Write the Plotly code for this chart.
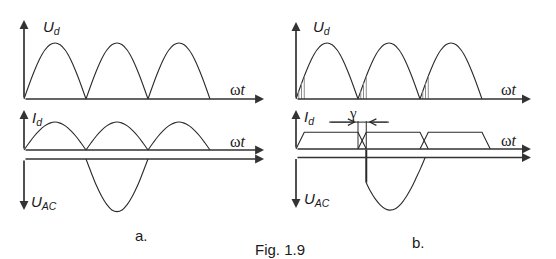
import plotly.graph_objects as go

W, H = 556, 259
DEG_PER_PX = 180 / 62      # horizontal scale: one half period = 62 px
PX_PER_UNIT = 56           # vertical scale: peak voltage = 56 px

# ---------------- data ----------------
ARCH_DEG = [0, 15, 30, 45, 60, 75, 90, 105, 120, 135, 150, 165, 180]
UD_ARCH = [0, 0.26, 0.5, 0.71, 0.87, 0.97, 1.0, 0.97, 0.87, 0.71, 0.5, 0.26, 0]
ID_A_ARCH = [0, 0.13, 0.25, 0.35, 0.43, 0.48, 0.5, 0.48, 0.43, 0.35, 0.25, 0.13, 0]
ARCH_START = [0, 180, 360]

UAC_A_DEG = [180, 195, 210, 225, 240, 255, 270, 285, 300, 315, 330, 345, 360]
UAC_A = [0, -0.24, -0.47, -0.66, -0.81, -0.91, -0.94, -0.91, -0.81, -0.66, -0.47, -0.24, 0]

GAMMA = 24                      # overlap angle (deg)
HATCH_DEG = [8, 16, 24]         # hatch positions inside the overlap
HATCH_H = [0.14, 0.28, 0.41]    # hatch heights
ID_B_LEVEL = 0.30               # trapezoid current level
GAMMA_DIM = [96, 270]           # extent of the gamma dimension line
GAMMA_DIM_Y = 0.48

UAC_B_DEG = [204, 215, 230, 245, 260, 273, 290, 305, 320, 335, 350, 362, 375]
UAC_B = [-0.45, -0.59, -0.74, -0.85, -0.92, -0.94, -0.91, -0.83, -0.70, -0.54, -0.35, -0.19, 0]

AXIS_LEN_A = 697
AXIS_LEN_B = 682

INK = "#2a2a2a"
AXIS_INK = "#333333"
HATCH_INK = "#8c8c8c"


def xaxis_cfg(origin_px, left_px, right_px):
    return dict(domain=[left_px / W, right_px / W],
                range=[(left_px - origin_px) * DEG_PER_PX, (right_px - origin_px) * DEG_PER_PX],
                visible=False, fixedrange=True)


def yaxis_cfg(base_px, top_px, bottom_px, anchor):
    return dict(domain=[1 - bottom_px / H, 1 - top_px / H],
                range=[(base_px - bottom_px) / PX_PER_UNIT, (base_px - top_px) / PX_PER_UNIT],
                visible=False, fixedrange=True, anchor=anchor)


def arches(values):
    xs, ys = [], []
    for s in ARCH_START:
        xs += [s + d for d in ARCH_DEG] + [None]
        ys += list(values) + [None]
    return xs, ys


fig = go.Figure()


def line(xs, ys, xa, ya, color=INK, width=1.1, shape="linear"):
    fig.add_trace(go.Scatter(x=xs, y=ys, xaxis=xa, yaxis=ya, mode="lines",
                             line=dict(color=color, width=width, shape=shape),
                             connectgaps=False, hoverinfo="skip"))


# ---- panel a ----
x, y = arches(UD_ARCH)
line(x, y, "x", "y", shape="spline")
x, y = arches(ID_A_ARCH)
line(x, y, "x", "y2", shape="spline")
line(UAC_A_DEG, UAC_A, "x", "y3", shape="spline")

# ---- panel b ----
x, y = arches(UD_ARCH)
line(x, y, "x2", "y4", shape="spline")
hx, hy = [], []
for s in ARCH_START:
    for d, h in zip(HATCH_DEG, HATCH_H):
        hx += [s + d, s + d, None]
        hy += [0, h, None]
line(hx, hy, "x2", "y4", color=HATCH_INK, width=1)

tx, ty = [], []
for s in ARCH_START:
    tx += [s, s + GAMMA, s + 180, s + 180 + GAMMA, None]
    ty += [0, ID_B_LEVEL, ID_B_LEVEL, 0, None]
line(tx, ty, "x2", "y5")

# commutation markers
line([180, 180, None, 180 + GAMMA, 180 + GAMMA], [0, GAMMA_DIM_Y + 0.02, None, 0, GAMMA_DIM_Y + 0.02],
     "x2", "y5", width=1)
line(GAMMA_DIM, [GAMMA_DIM_Y, GAMMA_DIM_Y], "x2", "y5", width=1)
line([180 + GAMMA, 180 + GAMMA], [0.14, UAC_B[0]], "x2", "y6", width=2)
line(UAC_B_DEG, UAC_B, "x2", "y6", shape="spline")

# ---- axes (arrows) ----
ann = []


def arrow(xa, ya, x0, y0, x1, y1, head=2, width=1.7, size=1.05, color=AXIS_INK):
    ann.append(dict(xref=xa, yref=ya, axref=xa, ayref=ya, x=x1, y=y1, ax=x0, ay=y0,
                    text="", showarrow=True, arrowhead=head, arrowwidth=width,
                    arrowsize=size, arrowcolor=color, standoff=0, startstandoff=0))


arrow("x", "y", 0, 0, 0, 79 / PX_PER_UNIT)
arrow("x", "y", 0, 0, AXIS_LEN_A, 0)
arrow("x", "y2", 0, 0, 0, 40 / PX_PER_UNIT)
arrow("x", "y2", 0, 0, AXIS_LEN_A, 0)
arrow("x", "y3", 0, 0, 0, -51 / PX_PER_UNIT)
arrow("x", "y3", 0, 0, AXIS_LEN_A, 0)

arrow("x2", "y4", 0, 0, 0, 77 / PX_PER_UNIT)
arrow("x2", "y4", 0, 0, AXIS_LEN_B, 0)
arrow("x2", "y5", 0, 0, 0, 39 / PX_PER_UNIT)
arrow("x2", "y5", 0, 0, AXIS_LEN_B, 0)
arrow("x2", "y6", 0, 0, 0, -50.5 / PX_PER_UNIT)
arrow("x2", "y6", 0, 0, AXIS_LEN_B, 0)

# gamma dimension arrowheads
arrow("x2", "y5", GAMMA_DIM[0], GAMMA_DIM_Y, 180 - 6, GAMMA_DIM_Y, head=5, width=1, size=1.3, color=INK)
arrow("x2", "y5", GAMMA_DIM[1], GAMMA_DIM_Y, 180 + GAMMA + 6, GAMMA_DIM_Y, head=5, width=1, size=1.3, color=INK)

SANS = "Liberation Sans, Arial, sans-serif"
SERIF = "Liberation Serif, Times New Roman, serif"


def label(text, xp, yp, size=15, family=SANS, xanchor="left"):
    ann.append(dict(xref="paper", yref="paper", x=xp / W, y=1 - yp / H, text=text,
                    showarrow=False, xanchor=xanchor, yanchor="middle",
                    font=dict(family=family, size=size, color="#1a1a1a")))


UD = "<i>U</i><sub><i>d</i></sub>"
ID = "<i>I</i><sub><i>d</i></sub>"
UAC = "<i>U</i><sub><i>AC</i></sub>"
WT = "ω<i>t</i>"

label(UD, 41, 27)
label(WT, 228, 90, size=16, family=SERIF)
label(ID, 30, 118)
label(WT, 228, 141, size=16, family=SERIF)
label(UAC, 29, 202)

label(UD, 311, 27)
label(WT, 499, 90, size=16, family=SERIF)
label(ID, 302, 117)
label(WT, 499, 140, size=16, family=SERIF)
label(UAC, 302, 199)

label("γ", 353, 113, size=15, family=SERIF, xanchor="center")
label("a.", 141, 235, size=15, xanchor="center")
label("b.", 418, 242, size=15, xanchor="center")
label("Fig. 1.9", 280, 249, size=15, xanchor="center")

fig.update_layout(
    width=W, height=H, margin=dict(l=0, r=0, t=0, b=0),
    paper_bgcolor="white", plot_bgcolor="rgba(0,0,0,0)", showlegend=False,
    xaxis=xaxis_cfg(24, 14, 272),
    xaxis2=xaxis_cfg(296, 286, 540),
    yaxis=yaxis_cfg(99, 14, 104, "x"),
    yaxis2=yaxis_cfg(150, 104, 154, "x"),
    yaxis3=yaxis_cfg(159, 155, 216, "x"),
    yaxis4=yaxis_cfg(99, 14, 104, "x2"),
    yaxis5=yaxis_cfg(149, 104, 154, "x2"),
    yaxis6=yaxis_cfg(157.5, 146, 214, "x2"),
    annotations=ann,
)

fig.write_html("out.html")
